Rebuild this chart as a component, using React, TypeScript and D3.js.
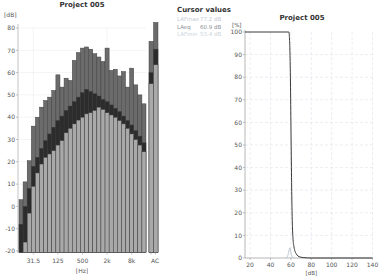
import React from "react";
import * as d3 from "d3";

// ---------- Left chart data (third-octave spectrum) ----------
const bandLabels = ["16","20","25","31.5","40","50","63","80","100","125","160","200","250","315","400","500","630","800","1k","1.25k","1.6k","2k","2.5k","3.15k","4k","5k","6.3k","8k","10k","12.5k","16k"];
const shownTicks = ["31.5","125","500","2k","8k"];
const lmax = [3,11,20.5,36,40,44.5,47.5,49,52,59,53.5,57.5,56.5,65.5,69,71,71.5,70.5,68.5,67,65,71,61,61.5,58.5,60.5,53.5,62,54.5,50,46];
const leq = [-8,0,8,18,22,26,29.5,32.5,35.5,38.5,40.5,43,45,47,49,51,52.5,51.5,50.5,49.5,48,47,45.5,44,42.5,40.5,38.5,36.5,34,31.5,28.5];
const lmin = [-21,-16,-3,9,15,19,22,23.5,25,27.5,29.5,33,35,37,38.7,40,41.5,42,43,44.5,43.5,42,41,40,38.5,37,35,32.5,30,27.5,24.5];
const acLabels = ["A","C"];
const acMax = [74, 82.5];
const acLeq = [60, 70.5];
const acMin = [55, 63.5];
const dbTicks = [80,70,60,50,40,30,20,10,0,-10,-20];

// ---------- Right chart data (cumulative distribution) ----------
const cdfLevels = [15,58,58.5,59,59.5,60,60.5,61,61.5,62,63,64,65,66,68,72,80,140];
const cdfPct = [100,100,98,92,80,60,40,24,14,9,5,3,2,1.3,0.6,0.2,0,0];
const densLevels = [55,56.5,57.5,58.5,59,59.5,60.5,61.5,62.5];
const densPct = [0,0.5,2,4,4.5,3.5,1.5,0.4,0];
const pctTicks = [100,90,80,70,60,50,40,30,20,10,0];
const lvlTicks = [20,40,60,80,100,120,140];
const cursorLines = [
  { label: "LAFmax", value: "77.2 dB", color: "#c3cad3" },
  { label: "LAeq", value: "60.9 dB", color: "#8a8f96" },
  { label: "LAFmin", value: "53.4 dB", color: "#cdd3db" },
];

const FONT = "DejaVu Sans, Verdana, sans-serif";

export default function App() {
  // left chart scales
  const y = d3.scaleLinear().domain([-20, 80]).range([251, 28]);
  const xb = d3.scaleBand().domain(bandLabels).range([19, 146]).padding(0);
  const xac = d3.scaleBand().domain(acLabels).range([149, 158]).padding(0);
  const tickLabelFor = (b: string) => b;
  const bottom = y(-20) + 1.5;

  // right chart scales
  const xr = d3.scaleLinear().domain([15, 140]).range([245, 372.5]);
  const yr = d3.scaleLinear().domain([0, 100]).range([258, 32]);
  const cdfLine = d3.line<number>().x((d, i) => xr(cdfLevels[i])).y((d) => yr(d)).curve(d3.curveMonotoneX);
  const densLine = d3.line<number>().x((d, i) => xr(densLevels[i])).y((d) => yr(d)).curve(d3.curveMonotoneX);

  const layers = [
    { vals: lmax, ac: acMax, fill: "#6b6b6b" },
    { vals: leq, ac: acLeq, fill: "#2c2c2c" },
    { vals: lmin, ac: acMin, fill: "#a9a9a9" },
  ];

  return (
    <svg width={391} height={276} style={{ position: "absolute", left: 0, top: 0, background: "#fff" }} fontFamily={FONT}>
      <rect x={0} y={0} width={391} height={276} fill="#fff" />
      {/* ===== Left chart ===== */}
      <text x={82} y={7} fontSize={7} fontWeight="bold" textAnchor="middle" fill="#333">Project 005</text>
      <text x={4} y={17} fontSize={6} fill="#555">[dB]</text>
      {dbTicks.map((t) => (
        <g key={t}>
          <line x1={18} x2={146} y1={y(t)} y2={y(t)} stroke="#ececec" strokeWidth={0.6} />
          <line x1={16} x2={18} y1={y(t)} y2={y(t)} stroke="#999" strokeWidth={0.6} />
          <text x={15} y={y(t) + 2.2} fontSize={6} textAnchor="end" fill="#555">{t}</text>
        </g>
      ))}
      {["31.5","2k"].map((b) => (
        <line key={b} x1={xb(b)! + xb.bandwidth() / 2} x2={xb(b)! + xb.bandwidth() / 2} y1={28} y2={251} stroke="#ececec" strokeWidth={0.6} />
      ))}
      <line x1={18} x2={18} y1={24} y2={253} stroke="#aaa" strokeWidth={0.7} />
      {layers.map((L, li) => (
        <g key={li}>
          {bandLabels.map((b, i) => {
            const v = L.vals[i];
            if (v <= -20) return null;
            return (
              <rect key={b} x={xb(b)!} width={xb.bandwidth()} y={y(v)} height={bottom - y(v)}
                fill={L.fill} stroke="#3c3c3c" strokeWidth={0.45} />
            );
          })}
          {acLabels.map((a, i) => (
            <rect key={a} x={xac(a)!} width={xac.bandwidth()} y={y(L.ac[i])} height={bottom - y(L.ac[i])}
              fill={L.fill} stroke="#3c3c3c" strokeWidth={0.45} />
          ))}
        </g>
      ))}
      {shownTicks.map((t) => {
        const b = t;
        const cx = xb(tickLabelFor(b))! + xb.bandwidth() / 2;
        return (
          <g key={t}>
            <line x1={cx} x2={cx} y1={bottom} y2={bottom + 2} stroke="#999" strokeWidth={0.6} />
            <text x={cx} y={263} fontSize={6} textAnchor="middle" fill="#555">{t}</text>
          </g>
        );
      })}
      <line x1={xac("A")! + 2} x2={xac("A")! + 2} y1={bottom} y2={bottom + 2} stroke="#999" strokeWidth={0.6} />
      <line x1={xac("C")! + 2} x2={xac("C")! + 2} y1={bottom} y2={bottom + 2} stroke="#999" strokeWidth={0.6} />
      <text x={155} y={263} fontSize={6} textAnchor="middle" fill="#555">AC</text>
      <text x={82} y={273} fontSize={6} textAnchor="middle" fill="#555">[Hz]</text>

      {/* ===== Cursor values ===== */}
      <text x={177} y={12} fontSize={7} fontWeight="bold" fill="#333">Cursor values</text>
      {cursorLines.map((c, i) => (
        <g key={c.label}>
          <text x={177} y={21 + i * 7.5} fontSize={5.5} fill={c.color}>{c.label}</text>
          <text x={200} y={21 + i * 7.5} fontSize={5.5} fill={c.color}>{c.value}</text>
        </g>
      ))}

      {/* ===== Right chart ===== */}
      <text x={302} y={20} fontSize={7} fontWeight="bold" textAnchor="middle" fill="#333">Project 005</text>
      <text x={232} y={27} fontSize={5.5} fill="#555">[%]</text>
      {pctTicks.map((t) => (
        <g key={t}>
          {t > 0 && t < 100 && (
            <line x1={245} x2={373} y1={yr(t)} y2={yr(t)} stroke="#dde1e7" strokeWidth={0.6} strokeDasharray="3,2" />
          )}
          <line x1={243} x2={245} y1={yr(t)} y2={yr(t)} stroke="#999" strokeWidth={0.6} />
          <text x={242} y={yr(t) + 2.2} fontSize={6} textAnchor="end" fill="#555">{t}</text>
        </g>
      ))}
      {lvlTicks.map((t) => (
        <g key={t}>
          <line x1={xr(t)} x2={xr(t)} y1={32} y2={258} stroke="#dde1e7" strokeWidth={0.6} strokeDasharray="3,2" />
          <line x1={xr(t)} x2={xr(t)} y1={258} y2={260} stroke="#999" strokeWidth={0.6} />
          <text x={xr(t)} y={267} fontSize={6} textAnchor="middle" fill="#555">{t}</text>
        </g>
      ))}
      <line x1={245} x2={245} y1={30} y2={258} stroke="#999" strokeWidth={0.7} />
      <line x1={245} x2={373} y1={258} y2={258} stroke="#999" strokeWidth={0.7} />
      <path d={densLine(densPct) || ""} fill="none" stroke="#b5bfcc" strokeWidth={0.9} />
      <path d={cdfLine(cdfPct) || ""} fill="none" stroke="#3a3a3a" strokeWidth={1} />
      <text x={xr(80)} y={275} fontSize={5.5} textAnchor="middle" fill="#555">[dB]</text>
    </svg>
  );
}
